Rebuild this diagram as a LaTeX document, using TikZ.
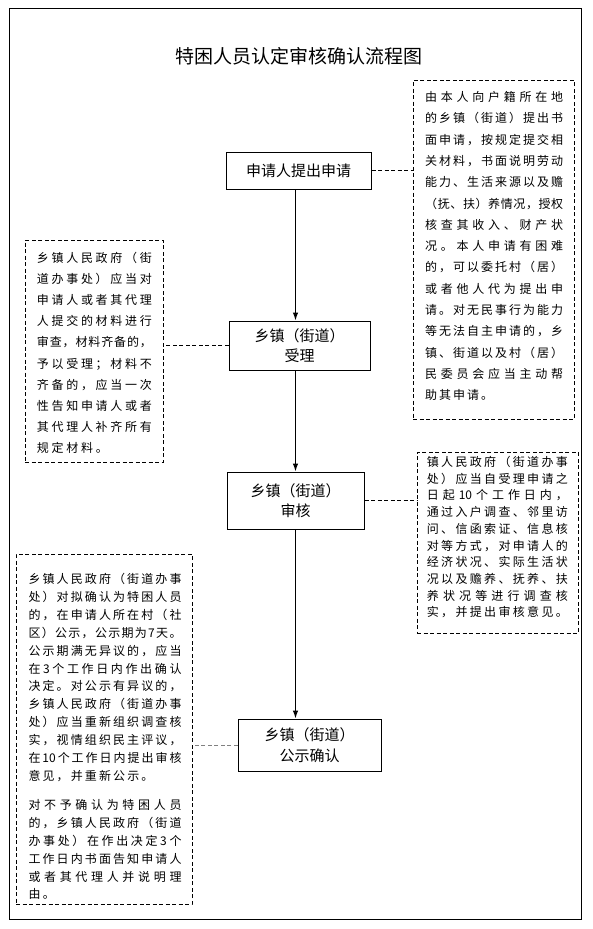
\documentclass[tikz,border=0pt]{standalone}
\usepackage{fontspec}
\setmainfont{Noto Sans CJK SC}
\usetikzlibrary{arrows.meta}
% spread the characters of one line over a given width
\def\SPend{}
\def\SPmark{\SPend}
\def\SPloop#1{\def\SPtmp{#1}\ifx\SPtmp\SPmark\else\hfil#1\expandafter\SPloop\fi}
\def\SPfirst#1{#1\SPloop}
\newcommand\jl[2][\hsize]{\hbox to #1{\SPfirst#2\SPend}}
% a block of lines: width, line spacing, lines
\newcommand\noteblock[3]{\vtop{\hsize=#1\fontsize{12}{#2}\selectfont\baselineskip=#2\relax\lineskiplimit=-50pt\relax #3}}
\tikzset{
  flowbox/.style={draw, line width=1pt, inner sep=0pt, align=center,
    font=\fontsize{15}{20.5}\selectfont},
  notebox/.style={draw, dashed, dash pattern=on 4pt off 2.5pt, line width=0.9pt, inner sep=0pt},
  notetext/.style={inner sep=0pt, anchor=base west},
  link/.style={dashed, dash pattern=on 4pt off 2.5pt, line width=0.8pt},
  flowarrow/.style={line width=1pt, -{Latex[length=8pt,width=5.5pt]}}
}
\begin{document}
\begin{tikzpicture}[x=1pt,y=-1pt]
\useasboundingbox (0,0) rectangle (593,929);
\draw[line width=1pt] (9.3,8.3) rectangle (581.7,919.3);
\node[inner sep=0pt, font=\fontsize{19}{19}\selectfont] (title) at (299,56.5) {特困人员认定审核确认流程图};

% main flow boxes
\node[flowbox, minimum width=145pt, minimum height=37pt] (b1) at (298.5,170.5) {申请人提出申请};
\node[flowbox, minimum width=141pt, minimum height=49pt] (b2) at (299.5,345.5) {乡镇（街道）\\受理};
\node[flowbox, minimum width=137pt, minimum height=57pt] (b3) at (295.5,500.5) {乡镇（街道）\\审核};
\node[flowbox, minimum width=143pt, minimum height=52pt] (b4) at (309.5,745) {乡镇（街道）\\公示确认};

% note boxes
\node[notebox, minimum width=161pt, minimum height=339pt] (n1) at (493.5,249.5) {};
\node[notebox, minimum width=138pt, minimum height=222pt] (n2) at (94,351) {};
\node[notebox, minimum width=161pt, minimum height=181pt] (n3) at (497.5,542.5) {};
\node[notebox, minimum width=176pt, minimum height=350pt] (n4) at (104,729) {};

% note texts
\node[notetext] (t1) at (425,101.5) {\noteblock{138pt}{21.3pt}{%
\jl{由本人向户籍所在地}
\jl{的乡镇（街道）提出书}
\jl{面申请，按规定提交相}
\jl{关材料，书面说明劳动}
\jl{能力、生活来源以及赡}
\jl{（抚、扶）养情况，授权}
\jl{核查其收入、财产状}
\jl{况。本人申请有困难}
\jl{的，可以委托村（居）}
\jl{或者他人代为提出申}
\jl{请。对无民事行为能力}
\jl{等无法自主申请的，乡}
\jl{镇、街道以及村（居）}
\jl{民委员会应当主动帮}
\jl[68pt]{助其申请。}}};

\node[notetext] (t2) at (36.7,262.5) {\noteblock{115pt}{21.1pt}{%
\jl{乡镇人民政府（街}
\jl{道办事处）应当对}
\jl{申请人或者其代理}
\jl{人提交的材料进行}
\jl{审查，材料齐备的，}
\jl{予以受理；材料不}
\jl{齐备的，应当一次}
\jl{性告知申请人或者}
\jl{其代理人补齐所有}
\jl[71pt]{规定材料。}}};

\node[notetext] (t3) at (426.7,466.5) {\noteblock{141pt}{16.7pt}{%
\jl{镇人民政府（街道办事}
\jl{处）应当自受理申请之}
\jl{日起{10}个工作日内，}
\jl{通过入户调查、邻里访}
\jl{问、信函索证、信息核}
\jl{对等方式，对申请人的}
\jl{经济状况、实际生活状}
\jl{况以及赡养、抚养、扶}
\jl{养状况等进行调查核}
\jl{实，并提出审核意见。}}};

\node[notetext] (t4) at (28.3,583.5) {\noteblock{153pt}{17.9pt}{%
\jl{乡镇人民政府（街道办事}
\jl{处）对拟确认为特困人员}
\jl{的，在申请人所在村（社}
\jl{区）公示，公示期为{7}天。}
\jl{公示期满无异议的，应当}
\jl{在{3}个工作日内作出确认}
\jl{决定。对公示有异议的，}
\jl{乡镇人民政府（街道办事}
\jl{处）应当重新组织调查核}
\jl{实，视情组织民主评议，}
\jl{在{10}个工作日内提出审核}
\jl[125pt]{意见，并重新公示。}
\vskip 11.1pt
\jl{对不予确认为特困人员}
\jl{的，乡镇人民政府（街道}
\jl{办事处）在作出决定{3}个}
\jl{工作日内书面告知申请人}
\jl{或者其代理人并说明理}
\jl[26.5pt]{由。}}};

% arrows
\draw[flowarrow] (b3.north |- b1.south) -- (b3.north |- b2.north);
\draw[flowarrow] (b3.north |- b2.south) -- (b3.north);
\draw[flowarrow] (b3.south) -- (b3.south |- b4.north);

% dashed links
\draw[link] (b1.east) -- (b1.east -| n1.west);
\draw[link] (b2.west) -- (b2.west -| n2.east);
\draw[link] (b3.east) -- (b3.east -| n3.west);
\draw[link, gray] (b4.west) -- (b4.west -| n4.east);
\end{tikzpicture}
\end{document}
